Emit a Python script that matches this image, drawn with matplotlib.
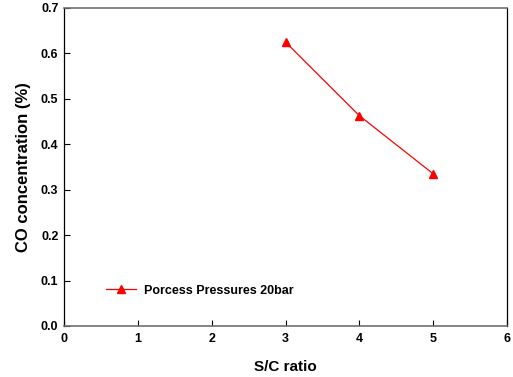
import matplotlib
matplotlib.use("Agg")
import matplotlib.pyplot as plt

plt.rcParams['font.family'] = ['Liberation Sans', 'DejaVu Sans']

sc_ratio = [3, 4, 5]
co_conc = [0.625, 0.463, 0.335]
series_label = "Porcess Pressures 20bar"
xticks = [0, 1, 2, 3, 4, 5, 6]
yticks = [0.0, 0.1, 0.2, 0.3, 0.4, 0.5, 0.6, 0.7]

fig = plt.figure(figsize=(5.13, 3.77), dpi=100)
ax = fig.add_axes([0.1248, 0.1353, 0.8635, 0.8435])

ax.plot(sc_ratio, co_conc, color='red', lw=0.9, marker='^', markersize=6,
        markeredgecolor='red', markerfacecolor='red', label=series_label)

ax.set_xlim(0, 6)
ax.set_ylim(0, 0.7)
ax.set_xticks(xticks)
ax.set_yticks(yticks)
ax.set_xticklabels([str(t) for t in xticks], fontsize=9, fontweight='bold')
ax.set_yticklabels([f"{t:.1f}" for t in yticks], fontsize=9, fontweight='bold')
ax.tick_params(direction='in', length=4, width=0.8, pad=4)
ax.tick_params(axis='x', pad=5)

for side in ['top', 'bottom']:
    ax.spines[side].set_color('#707070')
    ax.spines[side].set_linewidth(1.2)
for side in ['left', 'right']:
    ax.spines[side].set_color('black')
    ax.spines[side].set_linewidth(0.9)

ax.set_xlabel("S/C ratio", fontsize=11, fontweight='bold', labelpad=11)
ax.set_ylabel("CO concentration (%)", fontsize=12, fontweight='bold', labelpad=7)

leg = ax.legend(loc='lower left', bbox_to_anchor=(0.07, 0.057), frameon=False,
                prop={'size': 9, 'weight': 'bold'}, handlelength=2.4, handletextpad=0.6)

fig.savefig("out.png", dpi=100)
